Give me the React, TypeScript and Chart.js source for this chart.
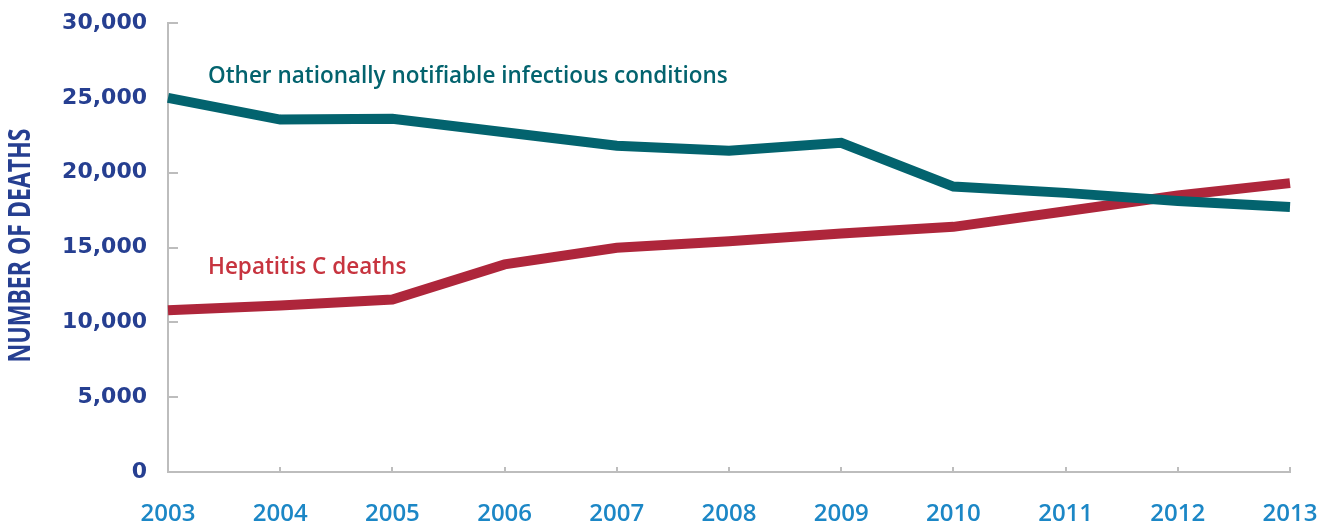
import React, { useEffect, useRef } from "react";
import { Chart, registerables } from "chart.js";

Chart.register(...registerables);

const years = ["2003", "2004", "2005", "2006", "2007", "2008", "2009", "2010", "2011", "2012", "2013"];
const otherConditions = [25000, 23550, 23600, 22700, 21800, 21470, 22000, 19070, 18650, 18100, 17700];
const hepatitisC = [10800, 11130, 11530, 13870, 14980, 15420, 15930, 16380, 17420, 18470, 19300];
const yTicks = [0, 5000, 10000, 15000, 20000, 25000, 30000];
const otherLabel = "Other nationally notifiable infectious conditions";
const hepLabel = "Hepatitis C deaths";
const yTitle = "NUMBER OF DEATHS";

const TEAL = "#03636E";
const RED = "#AE263B";
const NAVY = "#263F91";
const SKY = "#1C87C6";
const AXIS = "#BDBDBD";

const innerTicks = {
  id: "innerTicks",
  beforeDatasetsDraw(chart: any) {
    const { ctx, chartArea, scales } = chart;
    const xs = scales.x;
    const ys = scales.y;
    ctx.save();
    ctx.strokeStyle = AXIS;
    ctx.lineWidth = 2;
    yTicks.forEach((v) => {
      if (v === 0) return;
      const y = Math.round(ys.getPixelForValue(v));
      ctx.beginPath();
      ctx.moveTo(chartArea.left, y);
      ctx.lineTo(chartArea.left + 10, y);
      ctx.stroke();
    });
    years.forEach((_, i) => {
      if (i === 0) return;
      const x = Math.round(xs.getPixelForValue(i));
      ctx.beginPath();
      ctx.moveTo(x, chartArea.bottom);
      ctx.lineTo(x, chartArea.bottom - 5);
      ctx.stroke();
    });
    ctx.restore();
  },
};

const seriesLabels = {
  id: "seriesLabels",
  afterDatasetsDraw(chart: any) {
    const { ctx, chartArea, scales } = chart;
    const ys = scales.y;
    ctx.save();
    ctx.textAlign = "left";
    ctx.textBaseline = "alphabetic";
    ctx.font = "600 22.5px 'Open Sans', sans-serif";
    ctx.fillStyle = TEAL;
    ctx.fillText(otherLabel, chartArea.left + 40, ys.getPixelForValue(26000));
    ctx.fillStyle = "#C7343F";
    ctx.fillText(hepLabel, chartArea.left + 40, ys.getPixelForValue(13200));

    // condensed rotated axis title
    ctx.font = "bold 30px 'Open Sans', sans-serif";
    ctx.fillStyle = NAVY;
    ctx.textAlign = "center";
    ctx.textBaseline = "middle";
    const w = ctx.measureText(yTitle).width;
    const target = 234;
    ctx.translate(20, (chartArea.top + chartArea.bottom) / 2 - 2);
    ctx.rotate(-Math.PI / 2);
    ctx.scale(target / w, 1);
    ctx.fillText(yTitle, 0, 1);
    ctx.restore();
  },
};

export default function App() {
  const ref = useRef<HTMLCanvasElement>(null);
  useEffect(() => {
    if (!ref.current) return;
    const chart = new Chart(ref.current, {
      type: "line",
      data: {
        labels: years,
        datasets: [
          {
            label: otherLabel,
            data: otherConditions,
            borderColor: TEAL,
            backgroundColor: TEAL,
            borderWidth: 10,
            pointRadius: 0,
            tension: 0,
            fill: false,
          },
          {
            label: hepLabel,
            data: hepatitisC,
            borderColor: RED,
            backgroundColor: RED,
            borderWidth: 10,
            pointRadius: 0,
            tension: 0,
            fill: false,
          },
        ],
      },
      options: {
        responsive: false,
        animation: false,
        layout: { padding: { top: 23, right: 31, left: 0, bottom: 0 } },
        plugins: { legend: { display: false }, tooltip: { enabled: false } },
        scales: {
          x: {
            type: "category",
            offset: false,
            grid: { display: false, drawTicks: false },
            border: { display: true, color: AXIS, width: 2 },
            ticks: {
              color: SKY,
              padding: 28,
              maxRotation: 0,
              autoSkip: false,
              font: { family: "'Open Sans', sans-serif", size: 24, weight: 600 },
            },
            afterFit: (s: any) => {
              s.height = 53;
              s.paddingLeft = 0;
              s.paddingRight = 0;
            },
          },
          y: {
            min: 0,
            max: 30000,
            grid: { display: false, drawTicks: false },
            border: { display: true, color: AXIS, width: 2 },
            afterBuildTicks: (s: any) => {
              s.ticks = yTicks.map((v) => ({ value: v }));
            },
            ticks: {
              color: NAVY,
              padding: 21,
              font: { family: "'DejaVu Sans', sans-serif", size: 22, weight: "bold" },
              callback: (v: any) => Number(v).toLocaleString("en-US"),
            },
            afterFit: (s: any) => {
              s.width = 168;
              s.paddingTop = 0;
              s.paddingBottom = 0;
            },
          },
        },
      },
      plugins: [innerTicks, seriesLabels],
    });
    return () => chart.destroy();
  }, []);
  return (
    <div style={{ position: "absolute", left: 0, top: 0, width: 1321, height: 525, background: "#fff" }}>
      <canvas ref={ref} width={1321} height={525} style={{ display: "block" }} />
    </div>
  );
}
